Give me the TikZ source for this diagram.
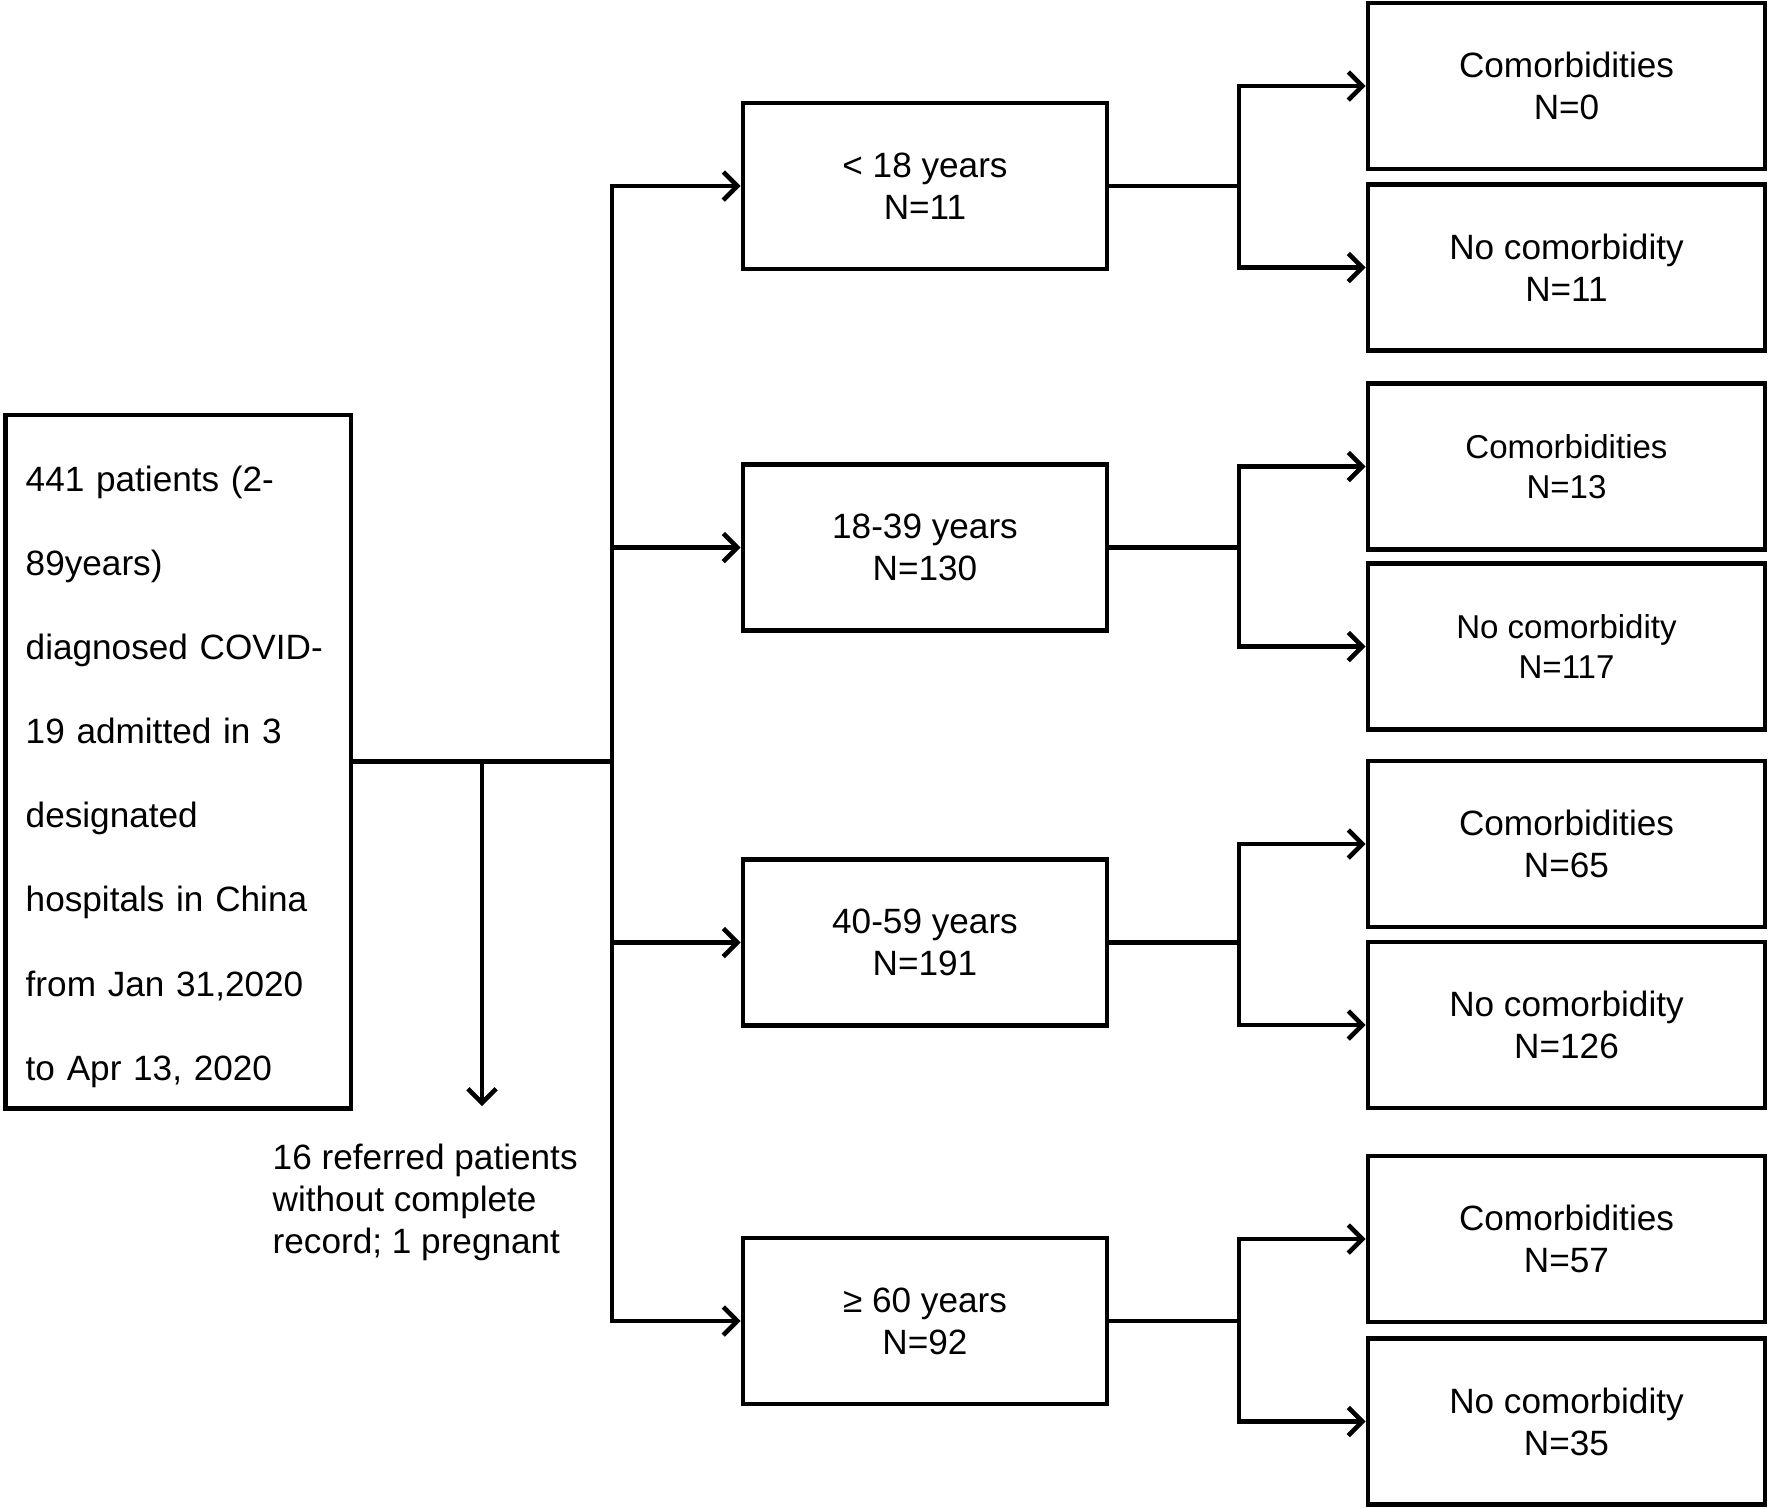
\documentclass[tikz,border=0pt]{standalone}
\usepackage{fontspec}
\setmainfont{Liberation Sans}
\usepackage{tikz}
\usetikzlibrary{arrows.meta, positioning, calc}

\begin{document}
\begin{tikzpicture}[
    x=0.01cm, y=-0.01cm,
    >={Straight Barb[length=4pt, width=8pt]},
    every node/.style={inner sep=3pt},
    startbox/.style={rectangle, draw=black, line width=1.3pt,
                     minimum width=3.45cm, minimum height=6.93cm,
                     text width=3.05cm, text height=0.56cm, align=left,
                     font=\fontsize{10}{23.9}\selectfont},
    agebox/.style={rectangle, draw=black, line width=1.3pt,
                   minimum width=3.64cm, minimum height=1.66cm,
                   align=center, font=\fontsize{10}{12}\selectfont},
    combox/.style={rectangle, draw=black, line width=1.3pt,
                   minimum width=3.97cm, minimum height=1.66cm,
                   align=center, font=\fontsize{10}{12}\selectfont},
    smallcombox/.style={combox, font=\fontsize{9.4}{11.3}\selectfont},
    note/.style={align=left, inner sep=0pt, font=\fontsize{10}{12}\selectfont},
    arr/.style={->, line width=1.3pt},
    conn/.style={-, line width=1.3pt}
]
\useasboundingbox (0,0) rectangle (1770,1508);

% --- Nodes --------------------------------------------------------------
\node[startbox] (pop) at (178.3,761.5)
     {441 patients (2-\\89years)\\diagnosed COVID-\\19 admitted in 3\\designated\\hospitals in China\\from Jan 31,2020\\to Apr 13, 2020};

\node[agebox] (ag1) at (925,186)    {< 18 years\\N=11};
\node[agebox] (ag2) at (925,547.5)  {18-39 years\\N=130};
\node[agebox] (ag3) at (925,942.5)  {40-59 years\\N=191};
\node[agebox] (ag4) at (925,1321)   {≥ 60 years\\N=92};

\node[combox]      (co1) at (1566.5,86)     {Comorbidities\\N=0};
\node[combox]      (no1) at (1566.5,267.5)  {No comorbidity\\N=11};
\node[smallcombox] (co2) at (1566.5,466.5)  {Comorbidities\\N=13};
\node[smallcombox] (no2) at (1566.5,646.5)  {No comorbidity\\N=117};
\node[combox]      (co3) at (1566.5,844)    {Comorbidities\\N=65};
\node[combox]      (no3) at (1566.5,1025)   {No comorbidity\\N=126};
\node[combox]      (co4) at (1566.5,1239)   {Comorbidities\\N=57};
\node[combox]      (no4) at (1566.5,1421.5) {No comorbidity\\N=35};

% --- Exclusion note -----------------------------------------------------
\node[note, anchor=north west] (excl) at (272,1143)
     {16 referred patients\\without complete\\record; 1 pregnant};

% --- Junctions ----------------------------------------------------------
\coordinate (split)   at (612,761.5);
\coordinate (drop)    at (482,761.5);
\coordinate (dropend) at (482,1106);
\coordinate (j1) at (1239,186);
\coordinate (j2) at (1239,547.5);
\coordinate (j3) at (1239,942.5);
\coordinate (j4) at (1239,1321);

% --- Flow ---------------------------------------------------------------
\draw[conn] (pop.east) -- (split);
\draw[arr]  (drop) -- (dropend);
\draw[arr]  (split) |- (ag1.west);
\draw[arr]  (split) |- (ag2.west);
\draw[arr]  (split) |- (ag3.west);
\draw[arr]  (split) |- (ag4.west);

\draw[conn] (ag1.east) -- (j1);
\draw[arr]  (j1) |- (co1.west);
\draw[arr]  (j1) |- (no1.west);
\draw[conn] (ag2.east) -- (j2);
\draw[arr]  (j2) |- (co2.west);
\draw[arr]  (j2) |- (no2.west);
\draw[conn] (ag3.east) -- (j3);
\draw[arr]  (j3) |- (co3.west);
\draw[arr]  (j3) |- (no3.west);
\draw[conn] (ag4.east) -- (j4);
\draw[arr]  (j4) |- (co4.west);
\draw[arr]  (j4) |- (no4.west);

\end{tikzpicture}
\end{document}
